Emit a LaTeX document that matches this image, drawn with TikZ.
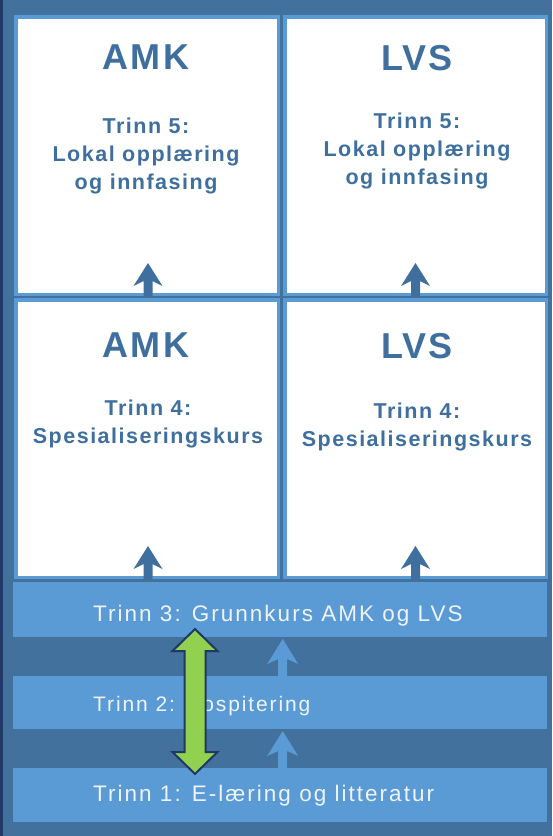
\documentclass[tikz,border=0pt]{standalone}
\usepackage{fontspec}
\setmainfont{Liberation Sans}
\newfontfamily\titlefont[LetterSpace=6]{Liberation Sans}
\newfontfamily\stepfont[LetterSpace=7]{Liberation Sans}
\newfontfamily\barfont[LetterSpace=9]{Liberation Sans}
\usetikzlibrary{calc}
\definecolor{bg}{HTML}{41719C}
\definecolor{lb}{HTML}{5B9BD5}
\definecolor{navy}{HTML}{1F3864}
\definecolor{grn}{HTML}{92D050}
\definecolor{txt}{HTML}{3F6F9E}
\definecolor{bartxt}{HTML}{EEF3F8}
\tikzset{
  panel/.style={draw=lb, line width=3.5pt, fill=white, minimum width=262.5pt, minimum height=277.5pt, inner sep=0pt},
  headtext/.style={font=\titlefont\bfseries\fontsize{36}{40}\selectfont, text=txt, inner sep=0pt, anchor=north},
  steptext/.style={font=\stepfont\bfseries\fontsize{21.5}{28}\selectfont, text=txt, inner sep=0pt, anchor=north, align=center},
  bar/.style={fill=lb, minimum width=534pt, inner sep=0pt, anchor=north west},
  bartext/.style={font=\barfont\fontsize{22.5}{26}\selectfont, text=bartxt, inner sep=0pt, anchor=base west},
  boxup/.pic={\fill[txt] (0,-33) -- (14.5,-10) -- (4.5,-15) -- (4.5,0) -- (-4.5,0) -- (-4.5,-15) -- (-14.5,-10) -- cycle;},
  gapup/.pic={\fill[lb] (0,-37) -- (15.5,-12) -- (4.5,-17) -- (4.5,0) -- (-4.5,0) -- (-4.5,-17) -- (-15.5,-12) -- cycle;},
  dblarrow/.style={draw=navy, line width=2pt, fill=grn, line join=miter}
}
\begin{document}
\begin{tikzpicture}[x=1pt,y=-1pt]
\useasboundingbox (0,0) rectangle (552,836);
\fill[bg] (0,0) rectangle (552,836);
\fill[navy] (0,0) rectangle (3,836);
% panels
\node[panel] (p5a) at (147,155.5) {};
\node[panel, minimum width=261.5pt] (p5l) at (415.5,155.5) {};
\node[panel] (p4a) at (147,438.5) {};
\node[panel, minimum width=261.5pt] (p4l) at (415.5,438.5) {};
% panel texts
\node[headtext] (h5a) at (146,45) {AMK};
\node[headtext] (h5l) at (417,45) {LVS};
\node[steptext] (s5a) at (146,118) {Trinn 5:\\Lokal opplæring\\og innfasing};
\node[steptext] (s5l) at (417,113) {Trinn 5:\\Lokal opplæring\\og innfasing};
\node[headtext] (h4a) at (146,333) {AMK};
\node[headtext] (h4l) at (417,333) {LVS};
\node[steptext] (s4a) at (148,400) {Trinn 4:\\Spesialiseringskurs};
\node[steptext] (s4l) at (417,403) {Trinn 4:\\Spesialiseringskurs};
% arrows inside panels
\pic at ($(p5a.south)+(1,0)$) {boxup};
\pic at (p5l.south) {boxup};
\pic at ($(p4a.south)+(1,0)$) {boxup};
\pic at (p4l.south) {boxup};
% bars
\node[bar, minimum height=55pt] (b3) at (13,582) {};
\node[bar, minimum height=53pt] (b2) at (13,676) {};
\node[bar, minimum height=54pt] (b1) at (13,768) {};
\node[bartext] (t3) at (93,621) {Trinn 3: Grunnkurs AMK og LVS};
\node[bartext, font=\barfont\fontsize{21}{26}\selectfont] (t2) at (93,711) {Trinn 2: Hospitering};
\node[bartext] (t1) at (93,801) {Trinn 1: E-læring og litteratur};
% arrows between bars
\pic at ($(b2.north)+(2.5,0)$) {gapup};
\pic at ($(b1.north)+(2.5,0)$) {gapup};
% green double arrow
\coordinate (gt) at (195,629);
\coordinate (gb) at (195,774);
\draw[dblarrow] (gt) -- ++(22.5,22) -- ++(-12,0) |- ($(gb)+(10.5,-22)$) -- ++(12,0) -- (gb) -- ++(-22.5,-22) -- ++(12,0) |- ($(gt)+(-10.5,22)$) -- ++(-12,0) -- cycle;
\end{tikzpicture}
\end{document}
